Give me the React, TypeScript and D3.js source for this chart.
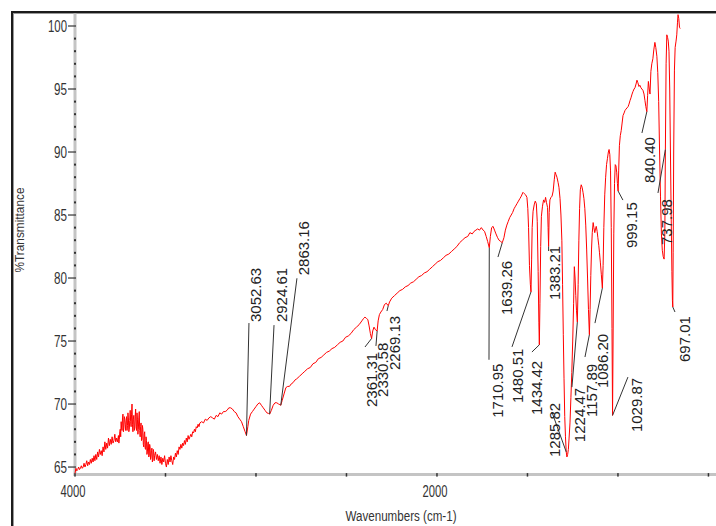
import React from "react";
import * as d3 from "d3";

// FT-IR spectrum: [wavenumber (cm-1), %T]
const spectrum: [number, number][] = [
  [4000, 64.5], [3995, 64.9], [3990, 64.7], [3985, 64.8], [3980, 65.0], [3975, 64.8], [3970, 64.9],
  [3965, 65.1], [3960, 64.9], [3955, 65.0], [3950, 65.3], [3945, 65.0], [3940, 65.2], [3935, 65.5],
  [3930, 65.1], [3925, 65.4], [3920, 65.2], [3915, 65.6], [3910, 65.3], [3905, 65.7], [3900, 65.4],
  [3895, 65.9], [3890, 65.5], [3885, 66.0], [3880, 65.6], [3875, 66.2], [3870, 65.8], [3865, 66.4],
  [3860, 66.0], [3855, 66.3], [3850, 65.9], [3845, 66.6], [3840, 66.2], [3835, 67.0], [3830, 66.4],
  [3825, 66.9], [3820, 66.5], [3815, 67.3], [3810, 66.7], [3805, 67.2], [3800, 66.8], [3795, 67.4],
  [3790, 66.9], [3785, 67.1], [3780, 67.6], [3775, 67.0], [3770, 67.3], [3765, 67.0], [3760, 67.5],
  [3757.5, 66.9], [3755, 67.2], [3752.5, 67.8], [3750, 68.0], [3747.5, 67.4], [3745, 68.6],
  [3742.5, 68.1], [3740, 67.9], [3737.5, 68.9], [3735, 69.2], [3732.5, 67.8], [3730, 68.1],
  [3727.5, 69.0], [3725, 68.8], [3722.5, 68.4], [3720, 67.9], [3717.5, 68.7], [3715, 69.0],
  [3712.5, 67.9], [3710, 68.3], [3707.5, 69.3], [3705, 68.9], [3702.5, 67.8], [3700, 68.0],
  [3697.5, 68.7], [3695, 69.5], [3692.5, 68.6], [3690, 68.2], [3687.5, 69.2], [3685, 70.0],
  [3682.5, 68.4], [3680, 67.8], [3677.5, 68.8], [3675, 69.1], [3672.5, 67.9], [3670, 68.1],
  [3667.5, 69.0], [3665, 69.6], [3662.5, 68.2], [3660, 67.9], [3657.5, 69.3], [3655, 68.8],
  [3652.5, 67.6], [3650, 68.0], [3647.5, 68.9], [3645, 69.4], [3642.5, 67.9], [3640, 67.4],
  [3637.5, 68.2], [3635, 68.5], [3632.5, 67.1], [3630, 67.2], [3627.5, 68.3], [3625, 68.0],
  [3622.5, 66.8], [3620, 66.6], [3617.5, 67.6], [3615, 67.8], [3612.5, 66.5], [3610, 66.4],
  [3607.5, 67.4], [3605, 67.1], [3602.5, 66.0], [3600, 66.2], [3597.5, 66.9], [3595, 67.0],
  [3592.5, 65.8], [3590, 65.9], [3587.5, 66.8], [3585, 66.6], [3582.5, 65.6], [3580, 65.8],
  [3577.5, 66.3], [3575, 66.5], [3572.5, 65.4], [3570, 65.6], [3567.5, 66.4], [3565, 66.2],
  [3562.5, 65.5], [3560, 65.9], [3555, 66.2], [3550, 65.6],
  [3545, 66.0], [3540, 65.5], [3535, 65.9], [3530, 65.3], [3525, 65.8], [3520, 65.2], [3515, 65.7],
  [3510, 65.4], [3505, 65.9], [3500, 65.3], [3495, 65.0], [3490, 65.6], [3485, 65.2], [3480, 65.8],
  [3475, 65.4], [3470, 65.9], [3465, 65.5], [3460, 65.2], [3455, 65.8], [3450, 65.6], [3445, 66.1],
  [3440, 65.8], [3435, 66.3], [3430, 66.0], [3425, 66.6], [3420, 66.4], [3415, 66.8], [3410, 66.5],
  [3405, 66.9], [3400, 66.7], [3395, 67.1], [3390, 66.8], [3385, 67.3], [3380, 67.0], [3375, 67.5],
  [3370, 67.2], [3365, 67.4], [3360, 67.6], [3355, 67.4], [3350, 67.8], [3345, 67.7], [3340, 68.0],
  [3335, 67.8], [3330, 68.2], [3325, 68.1], [3320, 68.4], [3315, 68.2], [3310, 68.5], [3300, 68.6],
  [3290, 68.5], [3280, 68.8], [3270, 68.7], [3260, 68.9], [3250, 69.0], [3240, 68.9], [3230, 68.8],
  [3220, 69.1], [3210, 69.0], [3200, 69.3], [3190, 69.2], [3180, 69.4], [3170, 69.4], [3160, 69.5],
  [3150, 69.7], [3140, 69.7], [3130, 69.6], [3120, 69.4], [3110, 69.3], [3100, 69.0], [3090, 68.8],
  [3080, 68.6], [3070, 68.2], [3060, 67.8], [3052.63, 67.5], [3045, 68.2], [3040, 68.7], [3030, 69.2],
  [3020, 69.4], [3010, 69.6], [3000, 69.8], [2990, 70.0], [2980, 70.1], [2970, 69.9], [2960, 69.7],
  [2950, 69.5], [2940, 69.3], [2930, 69.25], [2924.61, 69.2], [2915, 69.5], [2905, 69.9], [2895, 70.1],
  [2885, 70.1], [2875, 70.0], [2868, 69.95], [2863.16, 69.9], [2855, 70.3], [2845, 70.8], [2835, 71.3],
  [2825, 71.4], [2815, 71.4], [2805, 71.6], [2795, 71.7], [2785, 71.9], [2775, 72.0], [2760, 72.2],
  [2745, 72.4], [2730, 72.6], [2715, 72.8], [2700, 72.9], [2685, 73.2], [2670, 73.3], [2655, 73.6],
  [2640, 73.7], [2625, 73.9], [2610, 74.1], [2595, 74.2], [2580, 74.4], [2565, 74.5], [2550, 74.7],
  [2535, 74.9], [2520, 75.0], [2505, 75.3], [2490, 75.4], [2475, 75.6], [2460, 75.9], [2445, 76.1],
  [2430, 76.3], [2415, 76.6], [2405, 76.8], [2398, 76.9], [2390, 76.8], [2382, 76.7], [2375, 76.2],
  [2368, 75.6], [2361.31, 75.2], [2355, 75.8], [2348, 76.1], [2340, 75.9], [2330.58, 75.8], [2325, 76.6],
  [2318, 77.1], [2310, 77.3], [2300, 77.5], [2290, 77.9], [2280, 78.0], [2272, 77.85], [2269.13, 77.8],
  [2262, 78.1], [2250, 78.4], [2235, 78.6], [2220, 78.8], [2205, 79.0], [2190, 79.1], [2175, 79.3],
  [2160, 79.4], [2145, 79.6], [2130, 79.7], [2115, 79.9], [2100, 80.1], [2085, 80.2], [2070, 80.4],
  [2055, 80.5], [2040, 80.7], [2025, 80.9], [2010, 81.1], [1995, 81.3], [1980, 81.4], [1965, 81.6],
  [1950, 81.8], [1935, 81.9], [1920, 82.1], [1905, 82.3], [1890, 82.5], [1875, 82.8], [1860, 83.0],
  [1845, 83.2], [1830, 83.3], [1818, 83.6], [1805, 83.5], [1795, 83.7], [1785, 83.8], [1775, 83.9],
  [1765, 83.8], [1755, 84.0], [1745, 83.8], [1737, 83.7], [1728, 83.3], [1720, 82.9], [1710.95, 82.4],
  [1705, 83.3], [1698, 84.0], [1690, 84.1], [1682, 83.8], [1674, 83.5], [1665, 83.2], [1657, 83.0],
  [1648, 82.9], [1639.26, 82.8], [1630, 83.2], [1622, 83.8], [1614, 84.2], [1606, 84.5], [1598, 84.8],
  [1590, 85.0], [1582, 85.2], [1574, 85.5], [1566, 85.7], [1558, 85.9], [1550, 86.1], [1542, 86.3],
  [1534, 86.5], [1525, 86.8], [1518, 86.7], [1510, 86.6], [1503, 86.4], [1498, 85.5], [1494, 84.0],
  [1489, 81.0], [1484, 79.5], [1480.51, 78.9], [1477, 81.5], [1474, 84.0], [1469, 85.3], [1463, 85.8],
  [1457, 86.1], [1451, 85.9], [1446, 84.5], [1441, 80.5], [1437, 76.5], [1434.42, 74.7], [1431, 78.0],
  [1427, 82.5], [1423, 84.9], [1417, 85.7], [1411, 86.2], [1405, 86.0], [1400, 86.4], [1395, 86.0],
  [1389, 85.6], [1386, 84.0], [1383.21, 82.5], [1380, 85.2], [1376, 86.2], [1370, 86.4], [1364, 86.5],
  [1358, 86.9], [1352, 87.8], [1347, 88.4], [1342, 88.2], [1337, 88.0], [1331, 87.6], [1326, 87.2],
  [1320, 86.3], [1315, 85.0], [1310, 83.0], [1306, 79.5], [1302, 75.5], [1298, 72.0], [1294, 69.0],
  [1290, 67.4], [1285.82, 66.2], [1282, 65.8], [1278, 66.0], [1274, 66.4], [1270, 67.3], [1265, 68.5],
  [1260, 70.5], [1255, 72.5], [1250, 75.0], [1245, 78.0], [1241, 80.9], [1237, 80.0], [1233, 78.6],
  [1229, 77.4], [1224.47, 76.5], [1220, 79.5], [1216, 83.0], [1212, 85.5], [1208, 87.0], [1203, 87.4],
  [1198, 87.2], [1193, 86.8], [1188, 86.3], [1183, 85.5], [1178, 84.2], [1173, 82.3], [1168, 80.0],
  [1163, 77.5], [1157.89, 75.5], [1154, 77.5], [1150, 80.2], [1146, 82.3], [1142, 83.6], [1137, 84.4],
  [1133, 84.0], [1128, 83.6], [1124, 83.9], [1120, 84.1], [1115, 83.7], [1111, 83.2], [1106, 82.6],
  [1102, 82.0], [1097, 81.2], [1092, 80.3], [1086.2, 79.2], [1082, 81.0], [1078, 84.0], [1073, 86.6],
  [1068, 88.0], [1063, 89.0], [1058, 89.5], [1053, 90.0], [1049, 90.2], [1045, 89.8], [1041, 88.5],
  [1037, 84.0], [1033, 76.0], [1029.87, 69.1], [1027, 75.0], [1023, 83.5], [1019, 87.5], [1015, 89.0],
  [1011, 88.9], [1007, 88.4], [1003, 87.5], [999.15, 86.9], [996, 88.5], [992, 90.5], [987, 91.3],
  [982, 91.7], [977, 92.3], [972, 92.9], [966, 93.1], [961, 93.3], [956, 93.4], [950, 93.5],
  [944, 93.6], [939, 93.8], [933, 94.1], [928, 94.3], [922, 94.6], [917, 94.8], [911, 95.0],
  [906, 95.1], [900, 95.4], [895, 95.7], [890, 95.5], [884, 95.2], [879, 95.3], [873, 95.1],
  [868, 95.0], [862, 94.9], [856, 94.6], [851, 94.1], [846, 93.6], [840.4, 93.2], [836, 94.5],
  [832, 95.6], [827, 95.0], [823, 94.6], [818, 96.4], [813, 97.0], [807, 97.4], [802, 98.1],
  [796, 98.7], [791, 98.3], [785, 97.6], [780, 96.3], [775, 94.0], [770, 90.0], [765, 86.5],
  [760, 83.5], [755, 82.2], [750, 81.7], [745, 81.5], [741, 83.5], [737.98, 90.2], [734, 97.0],
  [730, 99.3], [726, 99.1], [722, 98.8], [718, 98.0], [714, 95.0], [710, 90.0], [706, 85.0],
  [702, 80.5], [699, 78.2], [697.01, 77.7], [695, 82.0], [692, 90.0], [688, 96.5], [684, 98.3],
  [679, 98.8], [675, 99.3], [671, 100.3], [668, 100.9], [664, 100.6], [660, 99.9], [656, 99.8],
];

// Annotated peaks: wavenumber and %T at the trace
const peakWavenumbers = [
  3052.63, 2924.61, 2863.16, 2361.31, 2330.58, 2269.13, 1710.95, 1639.26, 1480.51, 1434.42,
  1383.21, 1285.82, 1224.47, 1157.89, 1086.2, 1029.87, 999.15, 840.4, 737.98, 697.01,
];
const peakTransmittance = [
  67.5, 69.2, 69.9, 75.2, 75.8, 77.8, 82.4, 82.8, 78.9, 74.7,
  82.5, 66.2, 76.5, 75.5, 79.2, 69.1, 86.9, 93.2, 90.2, 77.7,
];

// Label placement: leader end offset from the peak [dx, dy], then text start offset from leader end [dx, dy]
const labelLayout: [number, number, number, number][] = [
  [2.5, -112.5, 12, -1], [4.4, -89, 13, -3], [16.2, -127, 12, -3],
  [-6.6, 8.5, 12, 60], [-1.2, 15, 12, 51], [-1.3, 5.3, 13, 59],
  [-0.3, 112, 14, 58], [-4.3, 14.3, 14, 58], [-19, 55, 11, 56], [-7.4, 7.2, 10, 63],
  [0, 4.5, 11.4, 49], [-14.3, -39.9, 8, 45], [-5.4, 65, 13, 55], [-4.4, 22.3, 12, 60],
  [-7.4, 35, 13, 65], [15.4, -38.3, 14, 55], [4.8, 9, 14, 48], [-4.9, 21.3, 13, 50],
  [-7.4, 43.5, 14, 52], [2.2, 5, 15, 50],
];

const yMajorTicks = [65, 70, 75, 80, 85, 90, 95, 100];
const yMinorTicks = d3.range(65, 101, 1).filter((v) => v % 5 !== 0);
const xTicks = [4000, 3500, 3000, 2500, 2000, 1500, 1000, 500];
const xTickLabels = [4000, 2000];

const FONT = "'Liberation Sans', Arial, Helvetica, sans-serif";

export default function App() {
  const W = 716;
  const H = 526;
  const x = d3.scaleLinear().domain([4000, 450]).range([75, 717.5]);
  const y = d3.scaleLinear().domain([64.4, 101]).range([474.6, 13.4]);
  const line = d3
    .line<[number, number]>()
    .x((d) => x(d[0]))
    .y((d) => y(d[1]));

  const axisY = y(64.4);
  const axisX = x(4000);

  return (
    <svg
      width={W}
      height={H}
      style={{ position: "absolute", left: 0, top: 0, background: "#fff", display: "block" }}
    >
      <rect x={0} y={0} width={W} height={H} fill="#fff" />
      {/* outer frame */}
      <line x1={12} y1={11} x2={12} y2={H} stroke="#1c1c1c" strokeWidth={2} />
      <line x1={11} y1={12} x2={W} y2={12} stroke="#1c1c1c" strokeWidth={2} />
      <line x1={13.5} y1={13} x2={13.5} y2={H} stroke="#9a9a9a" strokeWidth={1} />
      <line x1={13} y1={13.5} x2={W} y2={13.5} stroke="#9a9a9a" strokeWidth={1} />

      {/* axes */}
      <line x1={axisX} y1={13.5} x2={axisX} y2={axisY + 1.5} stroke="#c4c4c4" strokeWidth={3} />
      <line x1={axisX - 1.5} y1={axisY} x2={W} y2={axisY} stroke="#c4c4c4" strokeWidth={3} />

      {yMajorTicks.map((v) => (
        <g key={"ym" + v}>
          <line x1={68} x2={76} y1={y(v)} y2={y(v)} stroke="#333" strokeWidth={1.2} />
          <text
            x={67}
            y={y(v) + 6}
            textAnchor="end"
            fontFamily={FONT}
            fontSize={16}
            fill="#333"
            textLength={v >= 100 ? 19 : 13}
            lengthAdjust="spacingAndGlyphs"
          >
            {v}
          </text>
        </g>
      ))}
      {yMinorTicks.map((v) => (
        <rect key={"yn" + v} x={74} y={y(v) - 1} width={2} height={2} fill="#333" />
      ))}
      {xTicks.map((v) => (
        <rect key={"xt" + v} x={x(v) - 0.75} y={axisY - 1.5} width={1.5} height={3.5} fill="#333" />
      ))}
      {xTickLabels.map((v) => (
        <text
          key={"xl" + v}
          x={x(v) - 2}
          y={497}
          textAnchor="middle"
          fontFamily={FONT}
          fontSize={16}
          fill="#333"
          textLength={25}
          lengthAdjust="spacingAndGlyphs"
        >
          {v}
        </text>
      ))}

      {/* axis titles */}
      <text
        x={401}
        y={521}
        textAnchor="middle"
        fontFamily={FONT}
        fontSize={14}
        fill="#333"
        textLength={111}
        lengthAdjust="spacingAndGlyphs"
      >
        Wavenumbers (cm-1)
      </text>
      <text
        transform="translate(24,230) rotate(-90)"
        textAnchor="middle"
        fontFamily={FONT}
        fontSize={13}
        fill="#333"
        textLength={85}
        lengthAdjust="spacingAndGlyphs"
      >
        %Transmittance
      </text>

      {/* spectrum trace */}
      <path d={line(spectrum) ?? ""} fill="none" stroke="#ff0000" strokeWidth={1} strokeLinejoin="round" />

      {/* peak annotations */}
      {peakWavenumbers.map((wn, i) => {
        const px = x(wn);
        const py = y(peakTransmittance[i]);
        const [ldx, ldy, tdx, tdy] = labelLayout[i];
        const lx = px + ldx;
        const ly = py + ldy;
        const tx = lx + tdx;
        const ty = ly + tdy;
        return (
          <g key={"pk" + i}>
            <line x1={px} y1={py} x2={lx} y2={ly} stroke="#333" strokeWidth={1} />
            <text
              transform={`translate(${tx},${ty}) rotate(-90)`}
              fontFamily={FONT}
              fontSize={15}
              fill="#222"
            >
              {wn.toFixed(2)}
            </text>
          </g>
        );
      })}
    </svg>
  );
}
